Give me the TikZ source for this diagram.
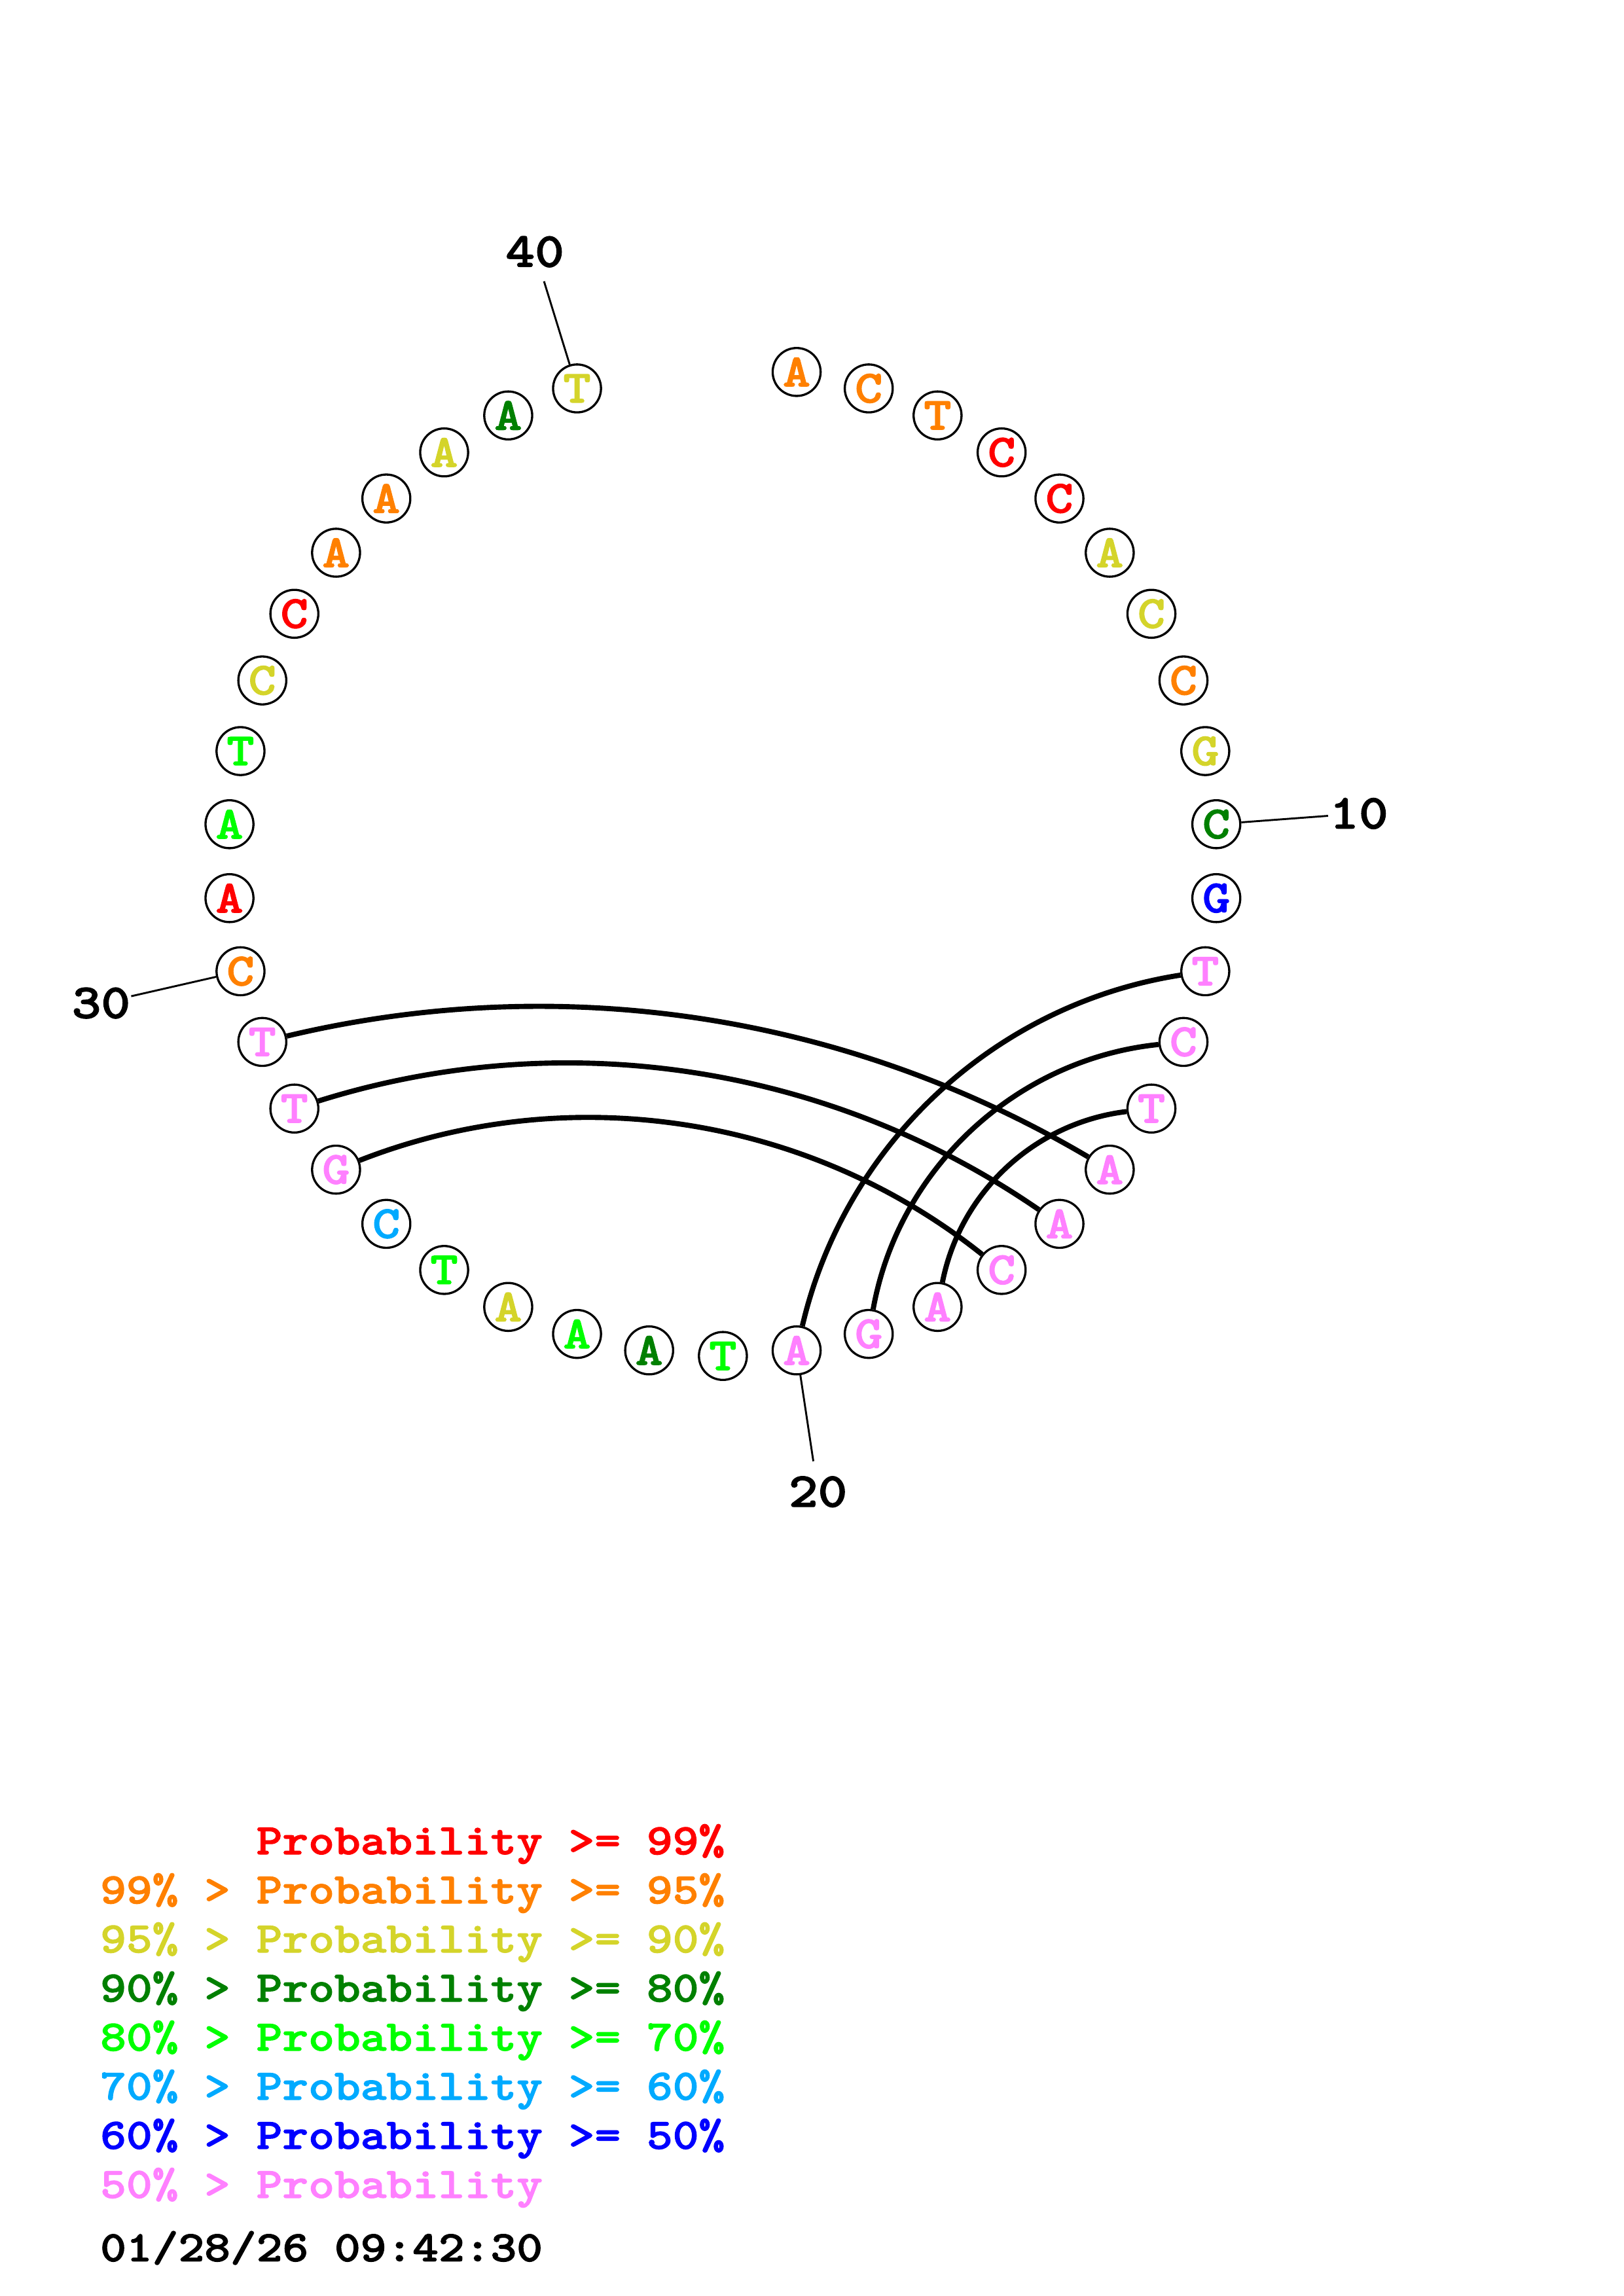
\documentclass[tikz,border=0pt]{standalone}
\usepackage{graphicx}
\usepackage{fontspec}
\newfontfamily\courbold{lmmonolt10-bold.otf}[FakeBold = 1.6]

% Probability colours
\definecolor{pRed}{RGB}{255,0,0}
\definecolor{pOrange}{RGB}{255,128,0}
\definecolor{pYellow}{RGB}{212,212,42}
\definecolor{pDkGreen}{RGB}{0,128,0}
\definecolor{pGreen}{RGB}{0,255,0}
\definecolor{pLtBlue}{RGB}{0,170,255}
\definecolor{pBlue}{RGB}{0,0,255}
\definecolor{pPink}{RGB}{255,128,255}

\newcommand{\wide}[1]{\scalebox{1.14}[1]{#1}}
\newcommand{\basefont}{\courbold\fontsize{17}{18}\selectfont}
\newcommand{\numfont}{\courbold\fontsize{18}{20}\selectfont}
\newcommand{\legfont}{\courbold\fontsize{16}{18}\selectfont}

\begin{document}
\begin{tikzpicture}[x = 1mm, y = 1mm,
	base/.style = {circle, draw, line width = 0.8pt, minimum size = 6.2mm, inner sep = 0pt, font = \basefont},
	numlabel/.style = {inner sep = 0pt, font = \numfont},
	legend/.style = {anchor = base west, inner sep = 0pt, font = \legfont},
	pairline/.style = {line width = 1.9pt},
	tickline/.style = {line width = 0.7pt}]

	% Definitions

	\def\cx{93.5}		% x of the circle centre
	\def\cy{185.6}		% y of the circle centre
	\def\rad{64}		% radius of the backbone circle
	\def\slots{42}		% 40 bases plus a gap of two slots at the top

	\useasboundingbox (0, 0) rectangle (210, 297);


	% Bases on the circle, clockwise from the top

	\begin{scope}[shift = {(\cx, \cy)}]

		\foreach \i/\nt/\col in {1/A/pOrange, 2/C/pOrange, 3/T/pOrange, 4/C/pRed, 5/C/pRed,
			6/A/pYellow, 7/C/pYellow, 8/C/pOrange, 9/G/pYellow, 10/C/pDkGreen,
			11/G/pBlue, 12/T/pPink, 13/C/pPink, 14/T/pPink, 15/A/pPink,
			16/A/pPink, 17/C/pPink, 18/A/pPink, 19/G/pPink, 20/A/pPink,
			21/T/pGreen, 22/A/pDkGreen, 23/A/pGreen, 24/A/pYellow, 25/T/pGreen,
			26/C/pLtBlue, 27/G/pPink, 28/T/pPink, 29/T/pPink, 30/C/pOrange,
			31/A/pRed, 32/A/pGreen, 33/T/pGreen, 34/C/pYellow, 35/C/pRed,
			36/A/pOrange, 37/A/pOrange, 38/A/pYellow, 39/A/pDkGreen, 40/T/pYellow}
			\node [base, text = \col] (n\i) at ({90 - \i * 360 / \slots} : \rad) {\wide{\nt}};

		% Position marks every ten bases

		\foreach \i in {10, 20, 30, 40} {
			\coordinate (t\i) at ({90 - \i * 360 / \slots} : 78.5);
			\node [numlabel] (l\i) at ({90 - \i * 360 / \slots} : 82.5) {\wide{\i}};
			\draw [tickline] (n\i) -- (t\i);
		}

	\end{scope}


	% Base pairs

	\draw [pairline] (n20) to [bend left = 34, looseness = 0.93] (n12);
	\draw [pairline] (n19) to [bend left = 37, looseness = 0.94] (n13);
	\draw [pairline] (n18) to [bend left = 36, looseness = 0.94] (n14);
	\draw [pairline] (n29) to [bend left = 22, looseness = 0.89] (n15);
	\draw [pairline] (n28) to [bend left = 26, looseness = 0.90] (n16);
	\draw [pairline] (n27) to [bend left = 30, looseness = 0.91] (n17);


	% Legend

	\foreach \k/\col/\txt in {0/pRed/{\phantom{99\% > }Probability >= 99\%},
		1/pOrange/{99\% > Probability >= 95\%},
		2/pYellow/{95\% > Probability >= 90\%},
		3/pDkGreen/{90\% > Probability >= 80\%},
		4/pGreen/{80\% > Probability >= 70\%},
		5/pLtBlue/{70\% > Probability >= 60\%},
		6/pBlue/{60\% > Probability >= 50\%},
		7/pPink/{50\% > Probability}}
		\node [legend, text = \col] (leg\k) at (12.9, {57.14 - \k * 6.35}) {\wide{\txt}};

	\node [legend] (date) at (12.9, 4.5) {\wide{01/28/26 09:42:30}};

\end{tikzpicture}
\end{document}
